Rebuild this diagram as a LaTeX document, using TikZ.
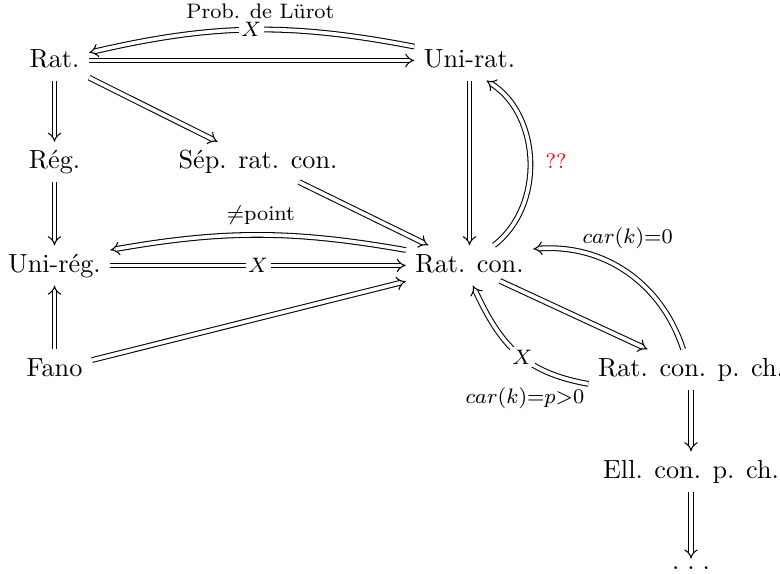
\documentclass[tikz,border=0pt]{standalone}
\usepackage{fontspec}
\usetikzlibrary{arrows.meta}
\begin{document}
\begin{tikzpicture}[x=0.3817pt,y=0.3817pt,
  obj/.style={anchor=base, inner xsep=3.5pt, inner ysep=3pt, text height=7pt, text depth=2pt},
  imp/.style={double, double distance=1.4pt, line width=0.4pt, -{Implies[scale=1.3]}},
  lab/.style={font=\footnotesize},
  desc/.style={font=\footnotesize, fill=white, inner sep=1pt},
]
\useasboundingbox (0,0) rectangle (780,573);
% nodes
\node[obj] (rat)  at (54.5,506)   {Rat.};
\node[obj] (urat) at (469.5,506)  {Uni-rat.};
\node[obj] (reg)  at (54.5,404.5) {Rég.};
\node[obj] (sep)  at (258,404.5)  {Sép. rat. con.};
\node[obj] (ureg) at (54.5,301)   {Uni-rég.};
\node[obj] (rcon) at (469.5,301)  {Rat. con.};
\node[obj] (fano) at (54.5,197)   {Fano};
\node[obj] (rcpc) at (691,197)    {Rat. con. p. ch.};
\node[obj] (ell)  at (691,95)     {Ell. con. p. ch.};
\node[obj, text height=1pt] (dots) at (691,3.5) {.\hspace{3pt}.\hspace{3pt}.};
% straight arrows
\draw[imp] (rat) -- (urat);
\draw[imp] (rat) -- (reg);
\draw[imp] (rat) -- (sep);
\draw[imp] (reg) -- (ureg);
\draw[imp] (fano) -- (ureg);
\draw[imp] (urat) -- (rcon);
\draw[imp] (sep) -- (rcon);
\draw[imp] (ureg) -- node[desc]{$X$} (rcon);
\draw[imp] (fano) -- (rcon);
\draw[imp] ([xshift=11.6pt, yshift=1.8pt]rcon.south) -- (rcpc);
\draw[imp] (rcpc) -- (ell);
\draw[imp] (ell) -- (dots);
% curved arrows
\draw[imp] ([yshift=5.3pt]urat.west) to[bend right=12]
  node[desc]{$X$}
  node[lab, pos=0.47, above=0.8pt]{Prob. de Lürot}
  ([yshift=3pt]rat.east);
\draw[imp] ([yshift=5.9pt]rcon.west) to[bend right=10]
  node[lab, pos=0.49, above=0.6pt]{$\neq$point}
  ([yshift=5.9pt]ureg.east);
\draw[imp] ([xshift=9.35pt]rcon.north) to[bend right=55]
  node[lab, right=2.5pt, text=red]{??}
  ([xshift=6.5pt]urat.south);
\draw[imp] ([xshift=-3pt]rcpc.north) to[bend right=38]
  node[lab, above=5.5pt, xshift=0.5pt]{$car(k){=}0$}
  ([yshift=6.3pt]rcon.east);
\draw[imp] ([yshift=-5.5pt]rcpc.west) to[out=170, in=-65, looseness=1.1]
  node[desc, pos=0.45]{$X$}
  node[lab, pos=0.45, below=8pt, xshift=1pt]{$car(k){=}p{>}0$}
  ([xshift=1.3pt]rcon.south);
\end{tikzpicture}
\end{document}
